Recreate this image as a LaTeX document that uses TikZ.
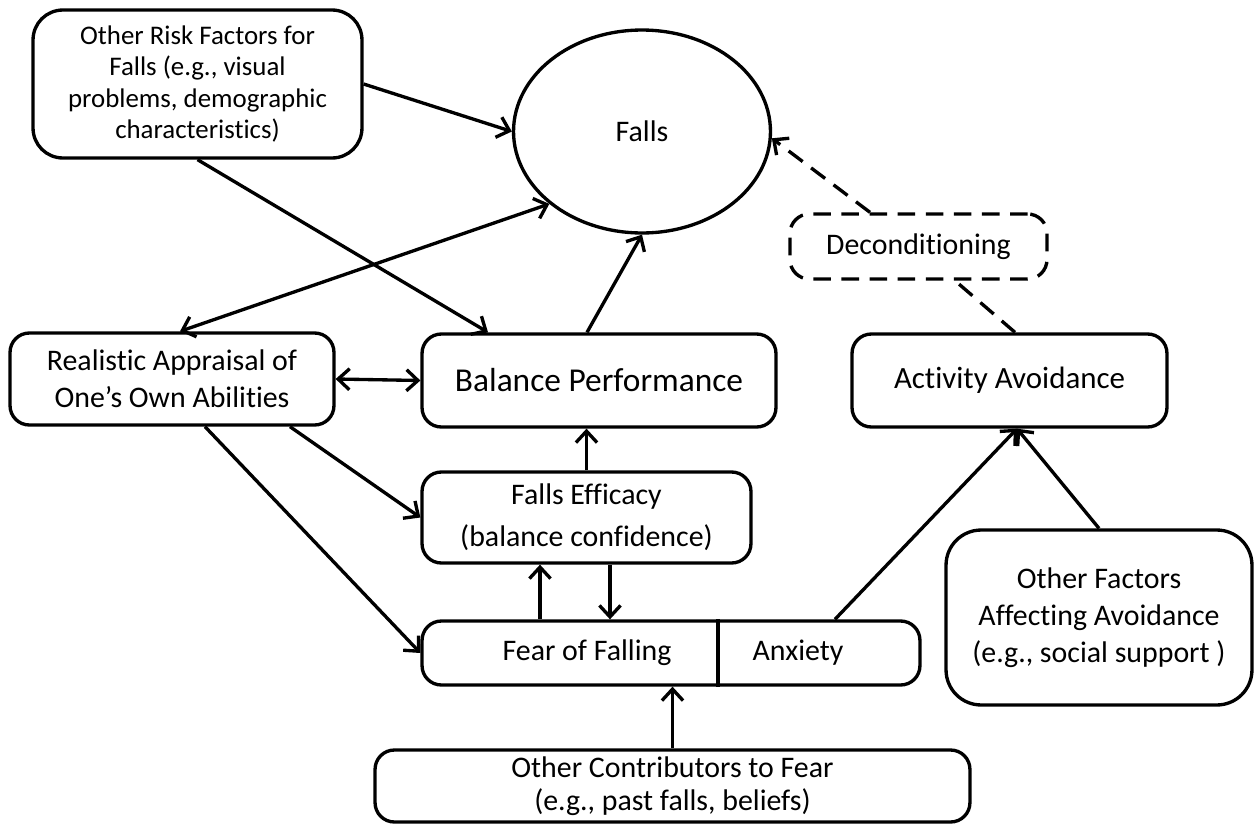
\documentclass[tikz,border=0pt]{standalone}
\usepackage{fontspec}
\setmainfont[Ligatures=CommonOff]{Carlito}
\usetikzlibrary{shapes.geometric,arrows.meta}

\begin{document}
\begin{tikzpicture}[x=0.02cm,y=-0.02cm,line width=1.9pt,>={Straight Barb[length=6.5pt,width=12pt]},
	font=\fontsize{17}{21}\selectfont]
	\tikzset{box/.style={draw, rounded corners=11pt, align=center, inner sep=0pt},
		dashedbox/.style={box, dash pattern=on 10pt off 6pt},
		link/.style={->},
		dashedlink/.style={dash pattern=on 10pt off 6pt}}
	\useasboundingbox (0,0) rectangle (1255,825);
	\node[box, rounded corners=17pt, minimum width=6.58cm, minimum height=2.96cm,
		font=\fontsize{15.3}{18}\selectfont] (risk) at (197.5,84)
		{Other Risk Factors for\\Falls (e.g., visual\\problems, demographic\\characteristics)};
	\node[draw, ellipse, minimum width=5.14cm, minimum height=4.06cm] (falls) at (642,131.5) {Falls};
	\node[dashedbox, minimum width=5.14cm, minimum height=1.3cm] (decond) at (918.5,246.5) {Deconditioning};
	\node[box, minimum width=6.48cm, minimum height=1.84cm] (appraisal) at (172,379)
		{Realistic Appraisal of\\One’s Own Abilities};
	\node[box, minimum width=7.08cm, minimum height=1.86cm, font=\fontsize{19}{23}\selectfont] (balance) at (599,380.5) {Balance Performance};
	\node[box, minimum width=6.3cm, minimum height=1.86cm, font=\fontsize{17.6}{21}\selectfont] (avoid) at (1009.5,380.5) {Activity Avoidance};
	\node[box, minimum width=6.58cm, minimum height=1.82cm, font=\fontsize{17}{24}\selectfont] (efficacy) at (586.5,517.5)
		{Falls Efficacy\\(balance confidence)};
	\node[box, minimum width=9.96cm, minimum height=1.28cm] (fearbox) at (671,653) {};
	\node (fear) at (587,653) {Fear of Falling};
	\node (anxiety) at (798,653) {Anxiety};
	\coordinate (divide) at (718,653);
	\node[box, rounded corners=20pt, minimum width=6.12cm, minimum height=3.5cm] (others) at (1099,617.5)
		{Other Factors\\Affecting Avoidance\\(e.g., social support )};
	\node[box, minimum width=11.9cm, minimum height=1.44cm, font=\fontsize{17}{19}\selectfont] (contrib) at (672.5,786)
		{Other Contributors to Fear\\(e.g., past falls, beliefs)};
	\draw (divide |- fearbox.north) -- (divide |- fearbox.south);
	\draw[link] (risk.east) -- (falls.west);
	\draw[link] (risk.south) -- ([xshift=-2.22cm]balance.north);
	\draw[<->] ([xshift=0.16cm]appraisal.north) -- (falls.218);
	\draw[link] ([xshift=-0.24cm]balance.north) -- (falls.south);
	\draw[<->] (appraisal.east) -- (balance.west);
	\draw[link] ([xshift=2.36cm]appraisal.south) -- (efficacy.west);
	\draw[link] ([xshift=0.66cm]appraisal.south) -- (fearbox.west);
	\draw[link] (efficacy.north) -- (efficacy.north |- balance.south);
	\draw[<-] ([xshift=-0.93cm]efficacy.south) -- ([xshift=-0.93cm]efficacy.south |- fearbox.north);
	\draw[link] ([xshift=0.47cm]efficacy.south) -- ([xshift=0.47cm]efficacy.south |- fearbox.north);
	\draw[link] (contrib.north) -- (contrib.north |- fearbox.south);
	\draw[link] ([xshift=3.28cm]fearbox.north) -- ([xshift=0.15cm]avoid.south);
	\draw[link] (others.north) -- ([xshift=0.15cm]avoid.south);
	\draw[dashedlink] ([xshift=0.11cm]avoid.north) -- ([xshift=0.73cm]decond.south);
	\draw[dashedlink,->] ([xshift=-0.97cm]decond.north) -- (falls.357);
\end{tikzpicture}
\end{document}
